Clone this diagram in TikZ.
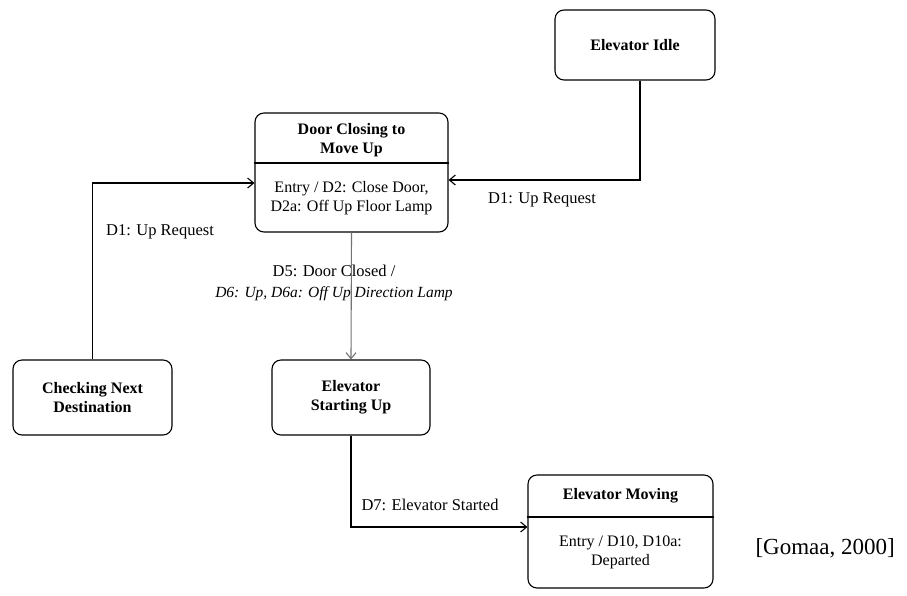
\documentclass[tikz,border=0pt]{standalone}
\usepackage{fontspec}
\setmainfont{Liberation Serif}
\usetikzlibrary{arrows.meta}
\begin{document}
\begin{tikzpicture}[x=1pt,y=-1pt,
  statebox/.style={draw,line width=1.1pt,rounded corners=9pt,inner sep=0pt},
  title/.style={font=\fontsize{16}{19}\selectfont\bfseries,align=center},
  body/.style={font=\fontsize{16}{19}\selectfont,align=center},
  lbl/.style={font=\fontsize{16.5}{21}\selectfont,align=center},
  conn/.style={line width=1.1pt,-{Straight Barb[length=6pt,width=10pt]}},
  plain/.style={line width=1.1pt}]
\useasboundingbox (0,0) rectangle (907,595);

% states
\node[statebox,minimum width=160pt,minimum height=70pt] (idle) at (635,45) {};
\node[title] (idleT) at (idle.center) {Elevator Idle};

\node[statebox,minimum width=193pt,minimum height=119pt] (door) at (351.5,172.5) {};
\node[title] (doorT) at (351.5,140) {Door Closing to\\Move Up};
\node[body] (doorB) at (351.5,198) {Entry / D2: Close Door,\\D2a: Off Up Floor Lamp};
\draw[plain] (door.west |- 0,163) -- (door.east |- 0,163);

\node[statebox,minimum width=159pt,minimum height=75pt] (check) at (92.5,397.5) {};
\node[title] (checkT) at (check.center) {Checking Next\\Destination};

\node[statebox,minimum width=158pt,minimum height=75pt] (start) at (351,397.5) {};
\node[title] (startT) at (start.center) {Elevator\\Starting Up};

\node[statebox,minimum width=185pt,minimum height=113pt] (moving) at (620.5,531.5) {};
\node[title] (movingT) at (620.5,496) {Elevator Moving};
\node[body] (movingB) at (620.5,552) {Entry / D10, D10a:\\Departed};
\draw[plain] (moving.west |- 0,517) -- (moving.east |- 0,517);

% transitions
\draw[conn] ([xshift=5pt]idle.south) |- (door.east |- 0,180);
\node[lbl] (l1) at (542,200) {D1: Up Request};

\draw[conn] (check.north) |- (door.west |- 0,183);
\node[lbl] (l2) at (160,232) {D1: Up Request};

\draw[conn,black!55] (door.south) -- (start.north);
\node[lbl] (l3) at (334,283) {D5: Door Closed /\\\fontsize{15.5}{21}\selectfont\itshape D6: Up, D6a: Off Up Direction Lamp};

\draw[conn] (start.south) |- (moving.west |- 0,527);
\node[lbl] (l4) at (430,505) {D7: Elevator Started};

% citation
\node[font=\fontsize{23}{26}\selectfont,anchor=west] (cite) at (752,548) {[Gomaa, 2000]};
\end{tikzpicture}
\end{document}
